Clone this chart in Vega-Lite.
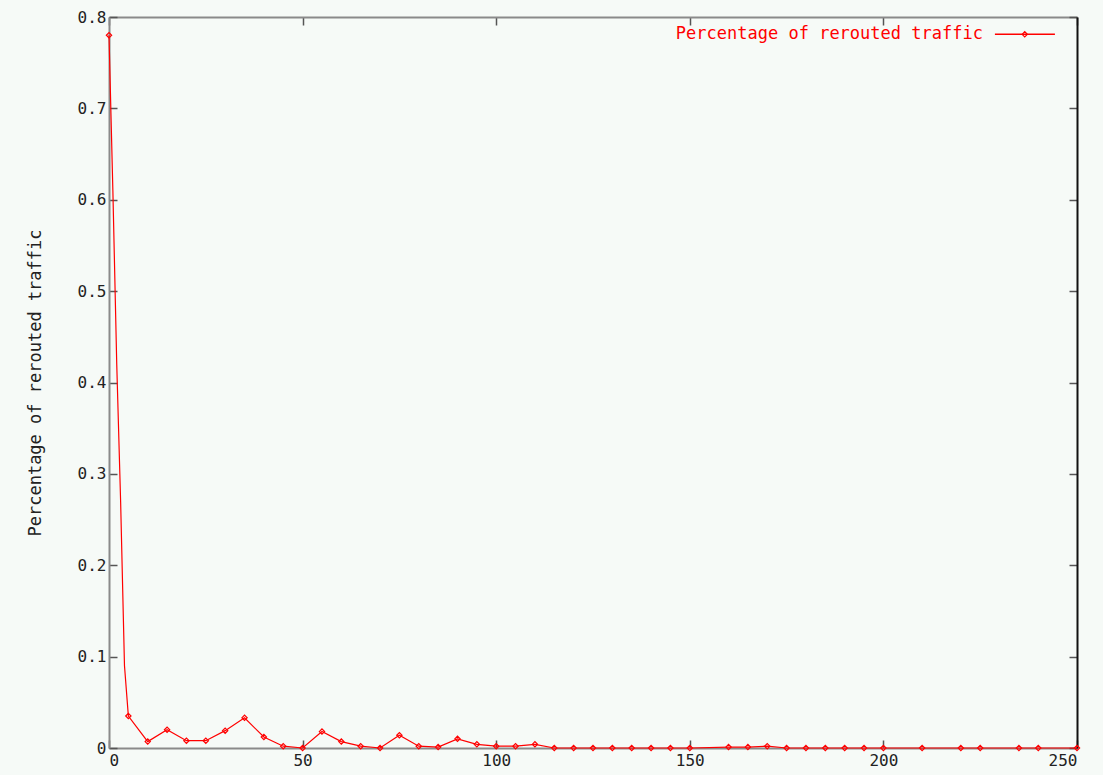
{
  "$schema": "https://vega.github.io/schema/vega-lite/v6.json",
  "width": 968,
  "height": 731,
  "autosize": {"type": "none"},
  "padding": {"left": 109, "top": 17, "right": 26, "bottom": 27},
  "background": "#f6faf7",
  "config": {
    "view": {"stroke": null, "fill": "#f6faf7"},
    "axis": {
      "grid": false,
      "domainColor": "#8a8a8a",
      "domainWidth": 2,
      "tickColor": "#555555",
      "tickSize": -8,
      "tickWidth": 1.5,
      "labelFont": "DejaVu Sans Mono",
      "labelFontSize": 16,
      "labelColor": "#222222",
      "titleFont": "DejaVu Sans Mono",
      "titleFontSize": 17,
      "titleFontWeight": "normal",
      "titleColor": "#222222"
    }
  },
  "datasets": {
    "traffic": [
      {"t": 0, "p": 0.78}, {"t": 1, "p": 0.61}, {"t": 2, "p": 0.42}, {"t": 3, "p": 0.27}, {"t": 4, "p": 0.09},
      {"t": 5, "p": 0.035}, {"t": 10, "p": 0.007}, {"t": 15, "p": 0.02}, {"t": 20, "p": 0.008}, {"t": 25, "p": 0.008},
      {"t": 30, "p": 0.019}, {"t": 35, "p": 0.033}, {"t": 40, "p": 0.012}, {"t": 45, "p": 0.002}, {"t": 50, "p": 0},
      {"t": 55, "p": 0.018}, {"t": 60, "p": 0.007}, {"t": 65, "p": 0.002}, {"t": 70, "p": 0}, {"t": 75, "p": 0.014},
      {"t": 80, "p": 0.002}, {"t": 85, "p": 0.001}, {"t": 90, "p": 0.01}, {"t": 95, "p": 0.004}, {"t": 100, "p": 0.002},
      {"t": 105, "p": 0.002}, {"t": 110, "p": 0.004}, {"t": 115, "p": 0}, {"t": 120, "p": 0}, {"t": 125, "p": 0},
      {"t": 130, "p": 0}, {"t": 135, "p": 0}, {"t": 140, "p": 0}, {"t": 145, "p": 0}, {"t": 150, "p": 0},
      {"t": 160, "p": 0.001}, {"t": 165, "p": 0.001}, {"t": 170, "p": 0.002}, {"t": 175, "p": 0}, {"t": 180, "p": 0},
      {"t": 185, "p": 0}, {"t": 190, "p": 0}, {"t": 195, "p": 0}, {"t": 200, "p": 0}, {"t": 210, "p": 0},
      {"t": 220, "p": 0}, {"t": 225, "p": 0}, {"t": 235, "p": 0}, {"t": 240, "p": 0}, {"t": 250, "p": 0}
    ]
  },
  "resolve": {"axis": {"x": "independent", "y": "independent"}},
  "layer": [
    {
      "data": {"name": "traffic"},
      "mark": {"type": "line", "color": "#ff0000", "strokeWidth": 1.2},
      "encoding": {
        "x": {
          "field": "t", "type": "quantitative",
          "scale": {"domain": [0, 250], "nice": false, "zero": false},
          "axis": {"orient": "bottom", "values": [0, 50, 100, 150, 200, 250], "title": null, "labelPadding": 12, "format": "d"}
        },
        "y": {
          "field": "p", "type": "quantitative",
          "scale": {"domain": [0, 0.8], "nice": false},
          "axis": {"orient": "left", "values": [0, 0.1, 0.2, 0.3, 0.4, 0.5, 0.6, 0.7, 0.8], "format": ".1~f", "labelPadding": 11, "title": "Percentage of rerouted traffic", "titlePadding": 33}
        }
      }
    },
    {
      "data": {"name": "traffic"},
      "transform": [{"filter": "datum.t % 5 == 0"}],
      "mark": {"type": "point", "shape": "diamond", "color": "#ff0000", "filled": false, "size": 28, "strokeWidth": 1.2, "opacity": 1},
      "encoding": {
        "x": {"field": "t", "type": "quantitative", "axis": null},
        "y": {"field": "p", "type": "quantitative", "axis": null}
      }
    },
    {
      "data": {"values": [{"label": "Percentage of rerouted traffic"}]},
      "mark": {"type": "text", "color": "#ff0000", "font": "DejaVu Sans Mono", "fontSize": 17, "align": "right", "baseline": "middle"},
      "encoding": {
        "x": {"datum": 225.7, "type": "quantitative", "axis": {"orient": "top", "values": [0, 50, 100, 150, 200, 250], "labels": false, "title": null}},
        "y": {"datum": 0.781, "type": "quantitative", "axis": {"orient": "right", "values": [0, 0.1, 0.2, 0.3, 0.4, 0.5, 0.6, 0.7, 0.8], "labels": false, "title": null, "domainColor": "#111111"}},
        "text": {"field": "label"}
      }
    },
    {
      "data": {"values": [{}]},
      "mark": {"type": "rule", "color": "#ff0000", "strokeWidth": 1.5},
      "encoding": {
        "x": {"datum": 228.8, "type": "quantitative", "axis": null},
        "x2": {"datum": 244.3},
        "y": {"datum": 0.781, "type": "quantitative", "axis": null}
      }
    },
    {
      "data": {"values": [{}]},
      "mark": {"type": "point", "shape": "diamond", "color": "#ff0000", "filled": false, "size": 28, "strokeWidth": 1.2, "opacity": 1},
      "encoding": {
        "x": {"datum": 236.5, "type": "quantitative", "axis": null},
        "y": {"datum": 0.781, "type": "quantitative", "axis": null}
      }
    }
  ]
}
